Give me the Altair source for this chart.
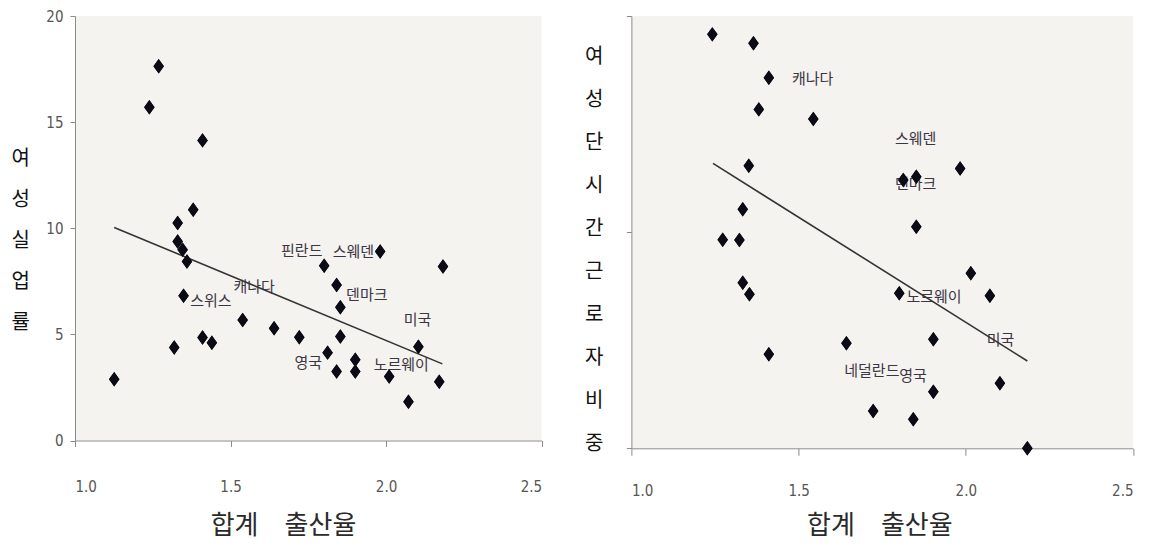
import altair as alt
import pandas as pd

# ---------------- Left panel: 합계 출산율 vs 여성실업률 ----------------
left_tfr = [1.126, 1.239, 1.269, 1.410, 1.380, 1.330, 1.330, 1.346, 1.360, 1.349,
            1.319, 1.410, 1.440, 1.539, 1.640, 1.721, 1.801, 1.812, 1.841, 1.853,
            1.853, 1.841, 1.901, 1.901, 1.981, 2.010, 2.072, 2.104, 2.171, 2.183]
left_unemp = [2.89, 15.70, 17.63, 14.14, 10.87, 10.25, 9.38, 8.99, 8.43, 6.82,
              4.38, 4.85, 4.61, 5.68, 5.29, 4.87, 8.23, 4.14, 7.33, 6.28,
              4.90, 3.25, 3.80, 3.25, 8.91, 3.01, 1.83, 4.42, 2.77, 8.20]
left_label_names = ["핀란드", "스웨덴", "덴마크", "미국", "노르웨이", "영국", "스위스", "캐나다"]
left_label_x = [1.729, 1.895, 1.938, 2.101, 2.049, 1.750, 1.437, 1.576]
left_label_y = [8.95, 8.87, 6.86, 5.68, 3.56, 3.66, 6.58, 7.24]
left_trend_x = [1.126, 2.181]
left_trend_y = [10.04, 3.61]

# ---------------- Right panel: 합계 출산율 vs 여성단시간근로자비중 ----------------
right_tfr = [1.242, 1.365, 1.411, 1.381, 1.544, 1.351, 1.333, 1.273, 1.323, 1.333,
             1.353, 1.411, 1.643, 1.723, 1.813, 1.852, 1.983, 1.852, 2.015, 1.801,
             2.072, 1.903, 2.102, 1.903, 1.843, 2.184]
right_part = [38.30, 37.47, 34.28, 31.36, 30.46, 26.14, 22.11, 19.30, 19.27, 15.32,
              14.25, 8.70, 9.71, 3.45, 24.82, 25.13, 25.90, 20.50, 16.19, 14.34,
              14.12, 10.08, 6.01, 5.24, 2.68, 0.00]
right_label_names = ["캐나다", "스웨덴", "덴마크", "노르웨이", "미국", "네덜란드", "영국"]
right_label_x = [1.542, 1.850, 1.850, 1.905, 2.104, 1.719, 1.842]
right_label_y = [34.2, 28.6, 24.5, 14.02, 10.02, 7.15, 6.69]
right_trend_x = [1.244, 2.184]
right_trend_y = [26.36, 8.08]

x_ticks = [1.0, 1.5, 2.0, 2.5]
left_y_ticks = [0, 5, 10, 15, 20]
right_y_ticks = [0, 20, 40]
x_title = "합계\u3000출산율"
left_y_title = list("여성실업률")
right_y_title = list("여성단시간근로자비중")

NARROW = "Liberation Sans Narrow, DejaVu Sans Condensed, Arial Narrow, sans-serif"
KR = "Noto Sans CJK KR"
DIAMOND = "M0,-1L0.72,0L0,1L-0.72,0Z"
AXIS_GRAY = "#8c8c8c"


def panel(xs, ys, lx, ly, names, tx, ty, ydomain, yticks, width, height,
          ytitle, ytitle_x, ytitle_y, line_h, ylabels, xlabel_pad, xtick,
          xtitle_x, xtitle_y):
    pts = pd.DataFrame({"x": xs, "y": ys})
    lab = pd.DataFrame({"x": lx, "y": ly, "name": names})
    trend = pd.DataFrame({"x": tx, "y": ty})

    xscale = alt.Scale(domain=[1.0, 2.5], nice=False, zero=False)
    yscale = alt.Scale(domain=ydomain, nice=False, zero=False)

    xaxis = alt.Axis(values=x_ticks, format=".1f", grid=False,
                     labelFont=NARROW, labelFontSize=15, labelColor="#555555",
                     labelPadding=xlabel_pad, tickSize=xtick, tickColor=AXIS_GRAY,
                     domainColor=AXIS_GRAY, title=x_title, titleFont=KR,
                     titleFontSize=26, titleFontWeight="normal", titleColor="#2a2a2a",
                     titleX=xtitle_x, titleY=xtitle_y, titleAlign="center",
                     titleBaseline="middle")
    yaxis = alt.Axis(values=yticks, grid=False, labels=ylabels,
                     labelFont=NARROW, labelFontSize=15, labelColor="#555555",
                     labelPadding=7, tickSize=5, tickColor=AXIS_GRAY,
                     domainColor=AXIS_GRAY, title=ytitle, titleFont=KR,
                     titleFontSize=20, titleFontWeight="normal", titleColor="#111111",
                     titleAngle=0, titleAlign="center", titleBaseline="top",
                     titleX=ytitle_x, titleY=ytitle_y, titleLineHeight=line_h)

    base_pts = alt.Chart(pts).mark_point(
        shape=DIAMOND, filled=True, size=210, color="#0b0b16", opacity=1
    ).encode(
        x=alt.X("x:Q", scale=xscale, axis=xaxis),
        y=alt.Y("y:Q", scale=yscale, axis=yaxis),
    )
    line = alt.Chart(trend).mark_line(color="#333333", strokeWidth=1.6).encode(
        x=alt.X("x:Q", scale=xscale), y=alt.Y("y:Q", scale=yscale)
    )
    text = alt.Chart(lab).mark_text(
        font=KR, fontSize=15, color="#3c3644", align="center", baseline="middle"
    ).encode(
        x=alt.X("x:Q", scale=xscale), y=alt.Y("y:Q", scale=yscale), text="name:N"
    )
    return alt.layer(base_pts, text, line, base_pts).properties(width=width, height=height)


left = panel(left_tfr, left_unemp, left_label_x, left_label_y, left_label_names,
             left_trend_x, left_trend_y, [0, 20], left_y_ticks, 466.6, 424.5,
             left_y_title, -54.7, 132, 41, True, 33, 6, 208, 84.5)
right = panel(right_tfr, right_part, right_label_x, right_label_y, right_label_names,
              right_trend_x, right_trend_y, [0, 40], right_y_ticks, 501.6, 432.3,
              right_y_title, -37.7, 30, 43.1, False, 28, 7, 248, 76.7)

chart = alt.hconcat(left, right, spacing=89.4, bounds="flush").properties(
    padding={"left": 3, "top": 1, "right": 5, "bottom": 14}
).configure_view(fill="#f5f3ef", stroke=None)

chart.save("out.html", embed_options={"renderer": "svg", "actions": False})
